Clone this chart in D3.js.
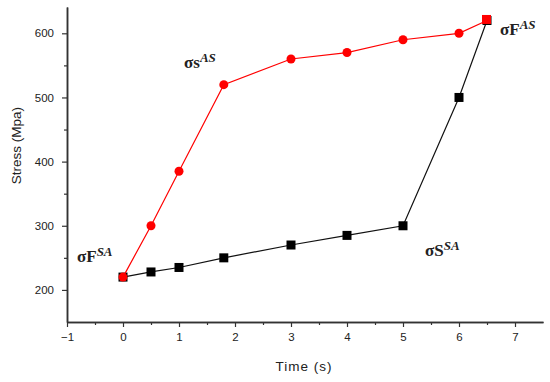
<!DOCTYPE html>
<html lang="en">
<head>
<meta charset="UTF-8">
<title>Stress vs time</title>
<script src="https://d3js.org/d3.v7.min.js"></script>
<style>
  body { margin: 0; background: #fff; }
  .tick text { font-family: "Liberation Sans", Arial, sans-serif; font-size: 11.5px; fill: #222; }
  .lbl { font-family: "Liberation Serif", "Times New Roman", serif; font-size: 17px; font-weight: bold; fill: #222; }
  .axis-title { font-family: "Liberation Sans", Arial, sans-serif; font-size: 13.5px; fill: #222; }
</style>
</head>
<body>
<script>
const times = [0, 0.5, 1, 1.8, 3, 4, 5, 6, 6.5];
const stressRed = [220, 300, 385, 520, 560, 570, 590, 600, 620];
const stressBlack = [220, 228, 235, 250, 270, 285, 300, 500, 620];
const xTicks = [-1, 0, 1, 2, 3, 4, 5, 6, 7];
const yTicks = [200, 300, 400, 500, 600];

const width = 550, height = 382;
const svg = d3.select("body").append("svg")
    .attr("width", width)
    .attr("height", height);

const x = d3.scaleLinear().domain([-1, 7.5]).range([67, 543]);
const y = d3.scaleLinear().domain([150, 641]).range([322, 7]);

// axes
svg.append("g")
    .attr("transform", `translate(0,${y(150)})`)
    .call(d3.axisBottom(x).tickValues(xTicks).tickSize(5).tickPadding(6).tickSizeOuter(0));
svg.append("g")
    .attr("transform", `translate(0,${y(150)})`)
    .call(d3.axisBottom(x).tickValues(d3.range(-0.5, 7.5, 1)).tickSize(3).tickFormat("").tickSizeOuter(0));

svg.append("g")
    .attr("transform", `translate(${x(-1)},0)`)
    .call(d3.axisLeft(y).tickValues(yTicks).tickSize(5).tickPadding(8).tickSizeOuter(0));
svg.append("g")
    .attr("transform", `translate(${x(-1)},0)`)
    .call(d3.axisLeft(y).tickValues([250, 350, 450, 550]).tickSize(3).tickFormat("").tickSizeOuter(0));

svg.selectAll(".domain").attr("stroke", "#333").attr("stroke-width", 1.5);
svg.selectAll(".tick line").attr("stroke", "#333").attr("stroke-width", 1.2);

// axis titles
svg.append("text").attr("class", "axis-title")
    .attr("text-anchor", "middle")
    .attr("transform", `translate(21,${(y(400)+y(450))/2}) rotate(-90)`)
    .text("Stress (Mpa)");
svg.append("text").attr("class", "axis-title")
    .attr("text-anchor", "middle")
    .attr("x", 304).attr("y", 371)
    .attr("letter-spacing", "1px")
    .text("Time (s)");

const line = d3.line().x(d => x(d[0])).y(d => y(d[1]));
const blackPts = times.map((t, i) => [t, stressBlack[i]]);
const redPts = times.map((t, i) => [t, stressRed[i]]);

svg.append("path").datum(blackPts)
    .attr("fill", "none").attr("stroke", "#111").attr("stroke-width", 1.2)
    .attr("d", line);
svg.selectAll("rect.blk").data(blackPts).join("rect")
    .attr("class", "blk")
    .attr("x", d => x(d[0]) - 4.5).attr("y", d => y(d[1]) - 4.5)
    .attr("width", 9).attr("height", 9)
    .attr("fill", "#000");

svg.append("path").datum(redPts)
    .attr("fill", "none").attr("stroke", "#ff0000").attr("stroke-width", 1.2)
    .attr("d", line);
svg.selectAll("circle.red").data(redPts.slice(0, -1)).join("circle")
    .attr("class", "red")
    .attr("cx", d => x(d[0])).attr("cy", d => y(d[1]))
    .attr("r", 4.5)
    .attr("fill", "#ff0000");
// last red point drawn as a square
svg.selectAll("rect.redsq").data(redPts.slice(-1)).join("rect")
    .attr("class", "redsq")
    .attr("x", d => x(d[0]) - 5).attr("y", d => y(d[1]) - 5.5)
    .attr("width", 9).attr("height", 9)
    .attr("fill", "#ff0000");

// annotations
const labels = [
  { x: 77, y: 262, base: "σF", sup: "SA" },
  { x: 184, y: 68, base: "σs", sup: "AS" },
  { x: 500, y: 35, base: "σF", sup: "AS" },
  { x: 425, y: 256, base: "σS", sup: "SA" }
];
labels.forEach(l => {
  const t = svg.append("text").attr("class", "lbl").attr("x", l.x).attr("y", l.y);
  t.append("tspan").text(l.base);
  t.append("tspan").attr("dy", -6).attr("font-size", "13px").attr("font-style", "italic").text(l.sup);
});
</script>
</body>
</html>
